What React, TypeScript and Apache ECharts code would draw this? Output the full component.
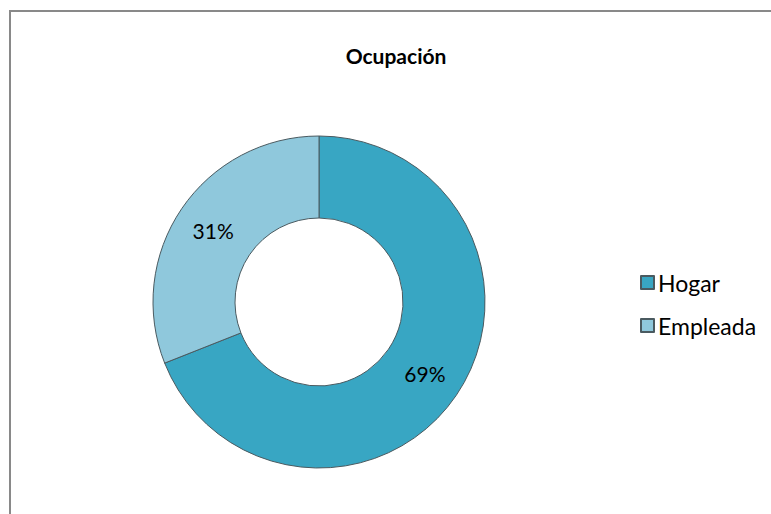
import React, { useEffect, useRef } from "react";
import * as echarts from "echarts";

const categories = ["Hogar", "Empleada"];
const values = [69, 31];
const colors = ["#38A6C3", "#8FC8DC"];
const title = "Ocupación";

export default function App() {
  const ref = useRef<HTMLDivElement>(null);
  useEffect(() => {
    if (!ref.current) return;
    const chart = echarts.init(ref.current, null, { renderer: "svg" });
    chart.setOption({
      animation: false,
      backgroundColor: "#ffffff",
      title: {
        text: title,
        left: 391,
        top: 40,
        textAlign: "center",
        textStyle: { fontFamily: "Lato", fontWeight: "bold", fontSize: 21, color: "#000" },
      },
      graphic: [
        {
          type: "rect",
          shape: { x: 10, y: 11, width: 800, height: 600 },
          style: { fill: "none", stroke: "#898989", lineWidth: 2 },
          silent: true,
        },
      ],
      legend: {
        orient: "vertical",
        left: 635,
        top: 266,
        itemWidth: 13,
        itemHeight: 13,
        itemGap: 20,
        icon: "rect",
        textStyle: { fontFamily: "Lato", fontSize: 23, color: "#000", padding: [0, 0, 0, -1] },
        data: categories,
      },
      series: [
        {
          type: "pie",
          center: [319, 302],
          radius: [84, 166],
          startAngle: 90,
          clockwise: true,
          avoidLabelOverlap: false,
          itemStyle: { borderColor: "#4a5a60", borderWidth: 1 },
          label: {
            show: true,
            position: "inside",
            formatter: "{c}%",
            fontFamily: "Lato",
            fontSize: 21,
            color: "#000",
          },
          labelLine: { show: false },
          data: categories.map((name, i) => ({
            name,
            value: values[i],
            itemStyle: { color: colors[i] },
          })),
        },
      ],
    });
    return () => chart.dispose();
  }, []);
  return (
    <div
      ref={ref}
      style={{ position: "absolute", left: 0, top: 0, width: 771, height: 514 }}
    />
  );
}
